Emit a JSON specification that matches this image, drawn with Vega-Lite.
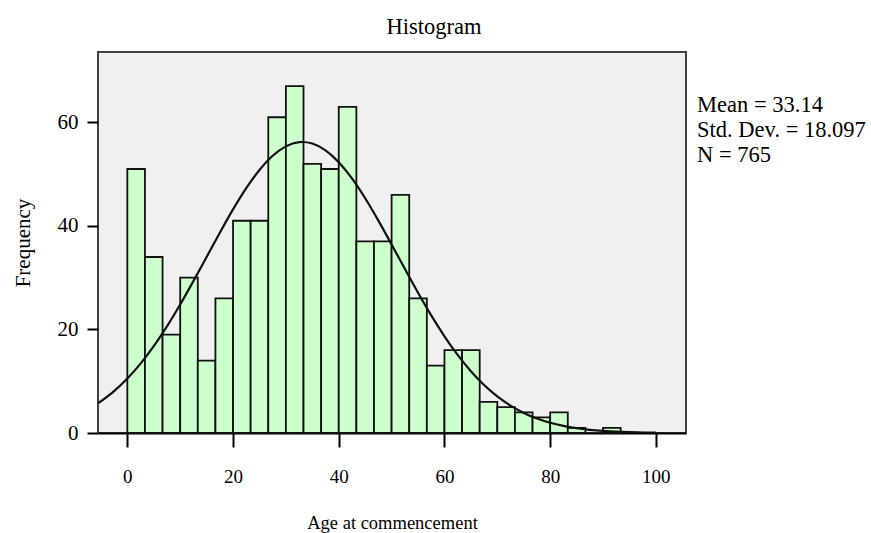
{
  "$schema": "https://vega.github.io/schema/vega-lite/v6.json",
  "autosize": {"type": "none"},
  "padding": {"left": 98, "top": 52, "right": 185, "bottom": 100},
  "width": 588,
  "height": 381,
  "background": "white",
  "config": {
    "font": "Liberation Serif",
    "view": {"fill": "#f0f0f0", "stroke": "#404040", "strokeWidth": 2}
  },
  "title": {
    "text": "Histogram",
    "font": "Liberation Serif",
    "fontSize": 22.5,
    "fontWeight": "normal",
    "color": "black",
    "anchor": "middle",
    "dx": 42,
    "offset": 14
  },
  "datasets": {
    "bins": [
      {"bin_start": 0, "bin_end": 3.333, "count": 51},
      {"bin_start": 3.333, "bin_end": 6.667, "count": 34},
      {"bin_start": 6.667, "bin_end": 10, "count": 19},
      {"bin_start": 10, "bin_end": 13.333, "count": 30},
      {"bin_start": 13.333, "bin_end": 16.667, "count": 14},
      {"bin_start": 16.667, "bin_end": 20, "count": 26},
      {"bin_start": 20, "bin_end": 23.333, "count": 41},
      {"bin_start": 23.333, "bin_end": 26.667, "count": 41},
      {"bin_start": 26.667, "bin_end": 30, "count": 61},
      {"bin_start": 30, "bin_end": 33.333, "count": 67},
      {"bin_start": 33.333, "bin_end": 36.667, "count": 52},
      {"bin_start": 36.667, "bin_end": 40, "count": 51},
      {"bin_start": 40, "bin_end": 43.333, "count": 63},
      {"bin_start": 43.333, "bin_end": 46.667, "count": 37},
      {"bin_start": 46.667, "bin_end": 50, "count": 37},
      {"bin_start": 50, "bin_end": 53.333, "count": 46},
      {"bin_start": 53.333, "bin_end": 56.667, "count": 26},
      {"bin_start": 56.667, "bin_end": 60, "count": 13},
      {"bin_start": 60, "bin_end": 63.333, "count": 16},
      {"bin_start": 63.333, "bin_end": 66.667, "count": 16},
      {"bin_start": 66.667, "bin_end": 70, "count": 6},
      {"bin_start": 70, "bin_end": 73.333, "count": 5},
      {"bin_start": 73.333, "bin_end": 76.667, "count": 4},
      {"bin_start": 76.667, "bin_end": 80, "count": 3},
      {"bin_start": 80, "bin_end": 83.333, "count": 4},
      {"bin_start": 83.333, "bin_end": 86.667, "count": 1},
      {"bin_start": 90, "bin_end": 93.333, "count": 1}
    ],
    "curve": [
      {"age": -5.5, "freq": 5.753},
      {"age": -2.5, "freq": 8.084},
      {"age": 0, "freq": 10.512},
      {"age": 2.5, "freq": 13.406},
      {"age": 5, "freq": 16.777},
      {"age": 7.5, "freq": 20.603},
      {"age": 10, "freq": 24.82},
      {"age": 12.5, "freq": 29.333},
      {"age": 15, "freq": 34.012},
      {"age": 17.5, "freq": 38.692},
      {"age": 20, "freq": 43.188},
      {"age": 22.5, "freq": 47.29},
      {"age": 25, "freq": 50.804},
      {"age": 27.5, "freq": 53.548},
      {"age": 30, "freq": 55.373},
      {"age": 32.5, "freq": 56.178},
      {"age": 33.14, "freq": 56.213},
      {"age": 35, "freq": 55.917},
      {"age": 37.5, "freq": 54.605},
      {"age": 40, "freq": 52.316},
      {"age": 42.5, "freq": 49.176},
      {"age": 45, "freq": 45.35},
      {"age": 47.5, "freq": 41.03},
      {"age": 50, "freq": 36.422},
      {"age": 52.5, "freq": 31.718},
      {"age": 55, "freq": 27.102},
      {"age": 57.5, "freq": 22.719},
      {"age": 60, "freq": 18.684},
      {"age": 62.5, "freq": 15.076},
      {"age": 65, "freq": 11.935},
      {"age": 67.5, "freq": 9.269},
      {"age": 70, "freq": 7.063},
      {"age": 72.5, "freq": 5.28},
      {"age": 75, "freq": 3.873},
      {"age": 77.5, "freq": 2.787},
      {"age": 80, "freq": 1.968},
      {"age": 82.5, "freq": 1.363},
      {"age": 85, "freq": 0.926},
      {"age": 87.5, "freq": 0.617},
      {"age": 90, "freq": 0.404},
      {"age": 92.5, "freq": 0.259},
      {"age": 95, "freq": 0.163},
      {"age": 97.5, "freq": 0.101},
      {"age": 100, "freq": 0.061}
    ]
  },
  "layer": [
    {
      "data": {"name": "bins"},
      "mark": {"type": "rect", "fill": "#ccffcc", "stroke": "#111111", "strokeWidth": 1.8},
      "encoding": {
        "x": {
          "field": "bin_start", "type": "quantitative",
          "scale": {"domain": [-5.55, 105.7], "nice": false, "zero": false},
          "axis": {
            "title": "Age at commencement",
            "values": [0, 20, 40, 60, 80, 100],
            "grid": false,
            "domain": true, "domainColor": "black", "domainWidth": 2,
            "tickColor": "black", "tickWidth": 2, "tickSize": 14,
            "labelFont": "Liberation Serif", "labelFontSize": 19, "labelColor": "black",
            "labelPadding": 20,
            "titleFont": "Liberation Serif", "titleFontSize": 18.5, "titleFontWeight": "normal", "titleColor": "black",
            "titlePadding": 27
          }
        },
        "x2": {"field": "bin_end"},
        "y": {
          "field": "count", "type": "quantitative",
          "scale": {"domain": [0, 73.6], "nice": false},
          "axis": {
            "title": "Frequency",
            "values": [0, 20, 40, 60],
            "grid": false,
            "domain": false,
            "tickColor": "black", "tickWidth": 2, "tickSize": 11,
            "labelFont": "Liberation Serif", "labelFontSize": 21, "labelColor": "black",
            "labelPadding": 9,
            "titleFont": "Liberation Serif", "titleFontSize": 21, "titleFontWeight": "normal", "titleColor": "black",
            "titlePadding": 24
          }
        },
        "y2": {"datum": 0}
      }
    },
    {
      "data": {"name": "curve"},
      "mark": {"type": "line", "color": "#111111", "strokeWidth": 2.2, "interpolate": "monotone", "clip": true},
      "encoding": {
        "x": {"field": "age", "type": "quantitative"},
        "y": {"field": "freq", "type": "quantitative"}
      }
    },
    {
      "data": {"values": [{}]},
      "mark": {
        "type": "text",
        "text": ["Mean = 33.14", "Std. Dev. = 18.097", "N = 765"],
        "font": "Liberation Serif",
        "fontSize": 22.5,
        "lineHeight": 25,
        "align": "left",
        "baseline": "middle",
        "color": "black"
      },
      "encoding": {
        "x": {"datum": 107.8, "type": "quantitative"},
        "y": {"datum": 63.3, "type": "quantitative"}
      }
    }
  ]
}
